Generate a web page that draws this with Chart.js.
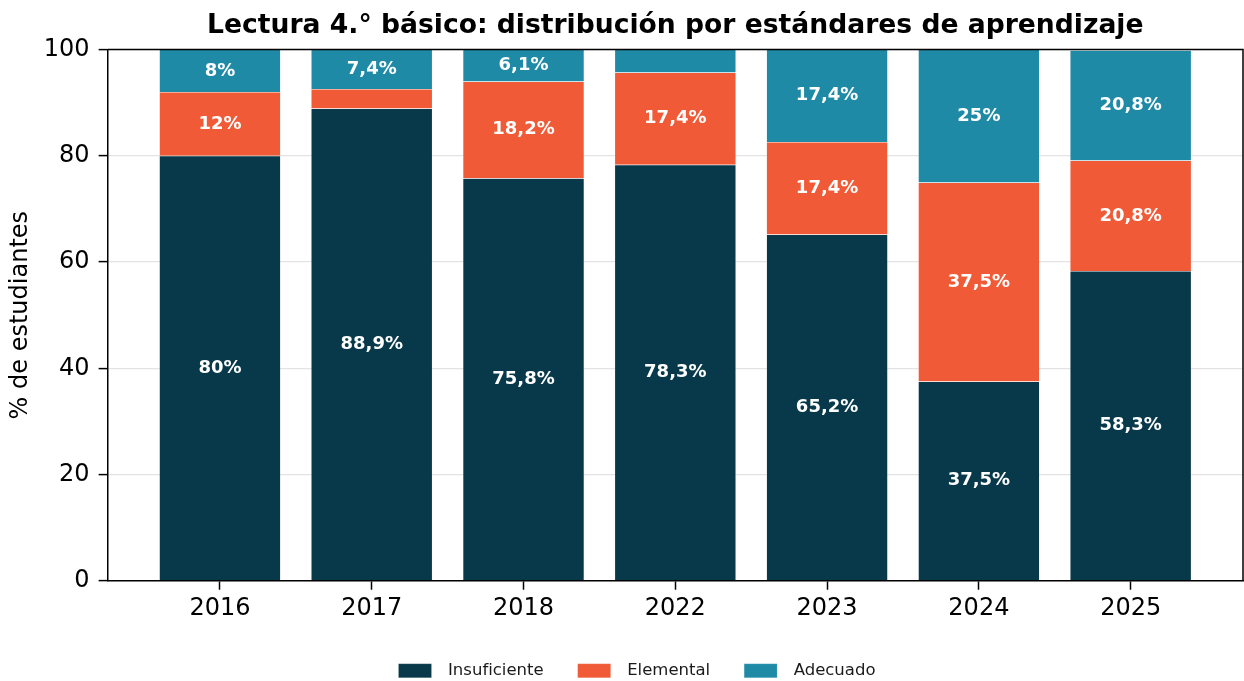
<!DOCTYPE html>
<html lang="es">
<head>
<meta charset="utf-8">
<title>Lectura 4.° básico</title>
<script src="https://cdn.jsdelivr.net/npm/chart.js@4"></script>
<style>
  html, body { margin: 0; padding: 0; background: #fff; }
  #wrap { width: 1244px; height: 681px; }
</style>
</head>
<body>
<div id="wrap"><canvas id="grafico" width="1244" height="681"></canvas></div>
<script>
// Datos (% de estudiantes)
const anios = ["2016", "2017", "2018", "2022", "2023", "2024", "2025"];
const insuficiente = [80, 88.9, 75.8, 78.3, 65.2, 37.5, 58.3];
const elemental = [12, 3.7, 18.2, 17.4, 17.4, 37.5, 20.8];
const adecuado = [8, 7.4, 6.1, 4.3, 17.4, 25, 20.8];
const ticksY = [0, 20, 40, 60, 80, 100];

const FUENTE = "'DejaVu Sans', sans-serif";

// posición de cada año en el eje x (0..n-1)
const puntos = (valores) => valores.map((v, i) => ({ x: i, y: v }));

// Etiquetas blancas al centro de cada segmento (oculta las menores a 5)
const etiquetasPlugin = {
  id: "etiquetas",
  afterDatasetsDraw(chart) {
    const ctx = chart.ctx;
    ctx.save();
    ctx.fillStyle = "#ffffff";
    ctx.font = "bold 18px " + FUENTE;
    ctx.textAlign = "center";
    ctx.textBaseline = "middle";
    chart.data.datasets.forEach((ds, i) => {
      const meta = chart.getDatasetMeta(i);
      meta.data.forEach((bar, j) => {
        const v = ds.data[j].y;
        if (v < 5) return;
        const txt = String(v).replace(".", ",") + "%";
        ctx.fillText(txt, bar.x, (bar.y + bar.base) / 2);
      });
    });
    ctx.restore();
  },
};

// Marco superior y derecho + leve corrimiento de la leyenda
const marcoPlugin = {
  id: "marco",
  afterLayout(chart) {
    if (chart.legend) {
      chart.legend.left += 13;
      chart.legend.right += 13;
    }
  },
  afterDraw(chart) {
    const { ctx, chartArea } = chart;
    ctx.save();
    ctx.strokeStyle = "#000";
    ctx.lineWidth = 1.5;
    ctx.beginPath();
    ctx.moveTo(chartArea.left, chartArea.top);
    ctx.lineTo(chartArea.right, chartArea.top);
    ctx.lineTo(chartArea.right, chartArea.bottom);
    ctx.stroke();
    ctx.restore();
  },
};

const serie = (label, valores, color) => ({
  label,
  data: puntos(valores),
  backgroundColor: color,
  borderColor: "rgba(255,255,255,0.3)",
  borderWidth: 0.5,
  categoryPercentage: 1,
  barPercentage: 0.8,
});

new Chart(document.querySelector("#grafico"), {
  type: "bar",
  data: {
    datasets: [
      serie("Insuficiente", insuficiente, "#08394A"),
      serie("Elemental", elemental, "#F05A37"),
      serie("Adecuado", adecuado, "#1F8AA6"),
    ],
  },
  options: {
    responsive: false,
    animation: false,
    layout: { padding: { left: 5, right: 1, top: 0, bottom: -8 } },
    plugins: {
      title: {
        display: true,
        fullSize: false,
        text: "Lectura 4.° básico: distribución por estándares de aprendizaje",
        color: "#000",
        font: { family: FUENTE, size: 26.6, weight: "bold" },
        padding: { top: 10, bottom: 7.7 },
      },
      legend: {
        position: "bottom",
        labels: {
          color: "#1a1a1a",
          font: { family: FUENTE, size: 16.5 },
          boxWidth: 33,
          boxHeight: 14,
          padding: 34,
          generateLabels(chart) {
            return Chart.defaults.plugins.legend.labels
              .generateLabels(chart)
              .map((item) => ({ ...item, text: "\u2002" + item.text }));
          },
        },
      },
      tooltip: { enabled: false },
    },
    scales: {
      x: {
        type: "linear",
        stacked: true,
        offset: false,
        min: -0.74,
        max: 6.74,
        afterBuildTicks(scale) {
          scale.ticks = anios.map((_, i) => ({ value: i }));
        },
        grid: {
          offset: false,
          drawOnChartArea: false,
          drawTicks: true,
          tickLength: 9,
          tickColor: "#000",
          tickWidth: 1.5,
        },
        border: { display: true, color: "#000", width: 1.5 },
        ticks: {
          color: "#000",
          font: { family: FUENTE, size: 24 },
          padding: 5,
          maxRotation: 0,
          callback: (v) => anios[v] ?? "",
        },
      },
      y: {
        stacked: true,
        min: 0,
        max: 100,
        z: 1,
        afterBuildTicks(scale) {
          scale.ticks = ticksY.map((v) => ({ value: v }));
        },
        grid: {
          color: "rgba(176,176,176,0.35)",
          lineWidth: 1.2,
          tickLength: 9,
          tickColor: "#000",
          tickWidth: 1.5,
        },
        border: { display: true, color: "#000", width: 1.5 },
        ticks: { color: "#000", font: { family: FUENTE, size: 24 }, padding: 9 },
        title: {
          display: true,
          text: "% de estudiantes",
          color: "#000",
          font: { family: FUENTE, size: 24 },
          padding: { top: 1, bottom: 0 },
        },
      },
    },
  },
  plugins: [etiquetasPlugin, marcoPlugin],
});
</script>
</body>
</html>
